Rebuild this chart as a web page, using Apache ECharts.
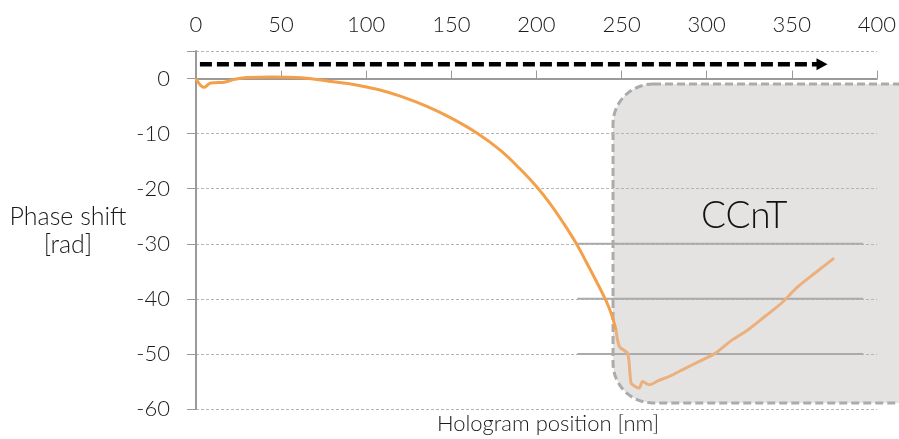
<!DOCTYPE html>
<html>
<head>
<meta charset="utf-8">
<script src="https://cdn.jsdelivr.net/npm/echarts@6/dist/echarts.min.js"></script>
<style>
  html, body { margin: 0; padding: 0; background: #ffffff; }
  #chart { width: 899px; height: 439px; }
</style>
</head>
<body>
<div id="chart"></div>
<script>
// Phase shift along the hologram scan: approach region and the CCnT region
const xTicks = [0, 50, 100, 150, 200, 250, 300, 350, 400];
const yTicks = [0, -10, -20, -30, -40, -50, -60];

const approachX = [0, 4.7, 8, 11, 15.7, 22, 30, 45, 62, 78, 95, 107, 120, 136, 150, 165, 178.7, 190, 200, 208, 216, 223.5, 229.4, 236, 241, 244, 246.8];
const approachY = [0, -1.6, -0.9, -0.75, -0.7, -0.2, 0.2, 0.3, 0.15, -0.5, -1.2, -2.0, -3.2, -5.1, -7.2, -9.9, -13, -16.3, -19.6, -22.7, -26.3, -30.0, -33.4, -37.3, -40.4, -42.7, -45.7];

const ccntX = [246.8, 248.8, 253.6, 255.6, 258, 260.4, 262.4, 266.2, 272, 277.9, 285.7, 295.3, 305, 314.8, 324.4, 334.2, 343.9, 353.6, 363.3, 374.9];
const ccntY = [-45.7, -48.7, -49.9, -55.3, -55.9, -56.2, -55.0, -55.6, -54.8, -54.1, -52.9, -51.4, -49.9, -47.5, -45.6, -43.2, -40.8, -37.8, -35.4, -32.6];

const FONT = 'Lato, "Open Sans", sans-serif';
const pair = (xs, ys) => xs.map((x, i) => [x, ys[i]]);

const chart = echarts.init(document.getElementById('chart'), null, { renderer: 'canvas' });

const option = {
  backgroundColor: '#ffffff',
  animation: false,
  grid: { left: 196, right: 16, top: 51, bottom: 30 },
  xAxis: {
    type: 'value',
    position: 'top',
    min: xTicks[0],
    max: xTicks[xTicks.length - 1],
    interval: 50,
    axisLine: { show: true, lineStyle: { color: '#9a9a9a', width: 2 } },
    axisTick: { show: true, length: 8, lineStyle: { color: '#9a9a9a', width: 1 } },
    axisLabel: { fontSize: 22, fontWeight: 300, color: '#1a1a1a', fontFamily: FONT, margin: 15 },
    splitLine: { show: false }
  },
  yAxis: {
    type: 'value',
    min: yTicks[yTicks.length - 1],
    max: 5,
    interval: 10,
    axisLine: { show: true, lineStyle: { color: '#9a9a9a', width: 2 } },
    axisTick: { show: true, length: 9, lineStyle: { color: '#9a9a9a', width: 1 } },
    axisLabel: {
      fontSize: 22, fontWeight: 300, color: '#1a1a1a', fontFamily: FONT, margin: 26,
      formatter: v => (yTicks.indexOf(v) >= 0 ? String(v) : '')
    },
    splitLine: { show: true, lineStyle: { color: '#b5b5b5', width: 1, type: [3, 2] } }
  },
  series: [
    {
      name: 'approach',
      type: 'line',
      data: pair(approachX, approachY),
      showSymbol: false,
      smooth: 0.4,
      z: 5,
      lineStyle: { color: '#f4a04a', width: 3 }
    },
    {
      name: 'CCnT',
      type: 'line',
      data: pair(ccntX, ccntY),
      showSymbol: false,
      smooth: 0.25,
      z: 5,
      lineStyle: { color: '#ebb07e', width: 3 }
    }
  ]
};
chart.setOption(option);

// Decorations anchored to data coordinates
const px = (x, y) => chart.convertToPixel({ gridIndex: 0 }, [x, y]);
const boxTL = px(245, -1.0);
const boxBR = px(450, -58.9);
const arrowA = px(2.3, 2.6);
const arrowB = px(371, 2.6);

const graphics = [
  {
    type: 'rect', z: -1,
    shape: { x: boxTL[0], y: boxTL[1], width: boxBR[0] - boxTL[0], height: boxBR[1] - boxTL[1], r: 40 },
    style: { fill: '#e4e3e2', stroke: '#ababab', lineWidth: 3, lineDash: [8, 4] }
  },
  {
    type: 'text', z: 10,
    style: { text: 'CCnT', x: px(322, 0)[0], y: px(0, -25)[1], fill: '#111', font: '300 37px ' + FONT, textAlign: 'center', textVerticalAlign: 'middle' }
  },
  {
    type: 'line', z: 10,
    shape: { x1: arrowA[0], y1: arrowA[1], x2: arrowB[0] - 10, y2: arrowB[1] },
    style: { stroke: '#000', lineWidth: 4.5, lineDash: [12, 5] }
  },
  {
    type: 'polygon', z: 10,
    shape: { points: [[arrowB[0] - 11, arrowB[1] - 6], [arrowB[0], arrowB[1]], [arrowB[0] - 11, arrowB[1] + 6]] },
    style: { fill: '#000' }
  },
  {
    type: 'text', z: 10,
    style: { text: 'Phase shift\n[rad]', x: 68, y: 231, fill: '#1a1a1a', font: '300 25px ' + FONT, textAlign: 'center', textVerticalAlign: 'middle', lineHeight: 28 }
  },
  {
    type: 'text', z: 10,
    style: { text: 'Hologram position [nm]', x: 548, y: 424, fill: '#1a1a1a', font: '300 22px ' + FONT, textAlign: 'center', textVerticalAlign: 'middle' }
  }
];

// Darker rule segments crossing the CCnT panel
[-30, -40, -50].forEach(v => {
  const a = px(224, v), b = px(392, v);
  graphics.push({ type: 'line', z: 1, shape: { x1: a[0], y1: a[1], x2: b[0], y2: b[1] }, style: { stroke: '#ababab', lineWidth: 2 } });
});

chart.setOption({ graphic: graphics });
</script>
</body>
</html>
